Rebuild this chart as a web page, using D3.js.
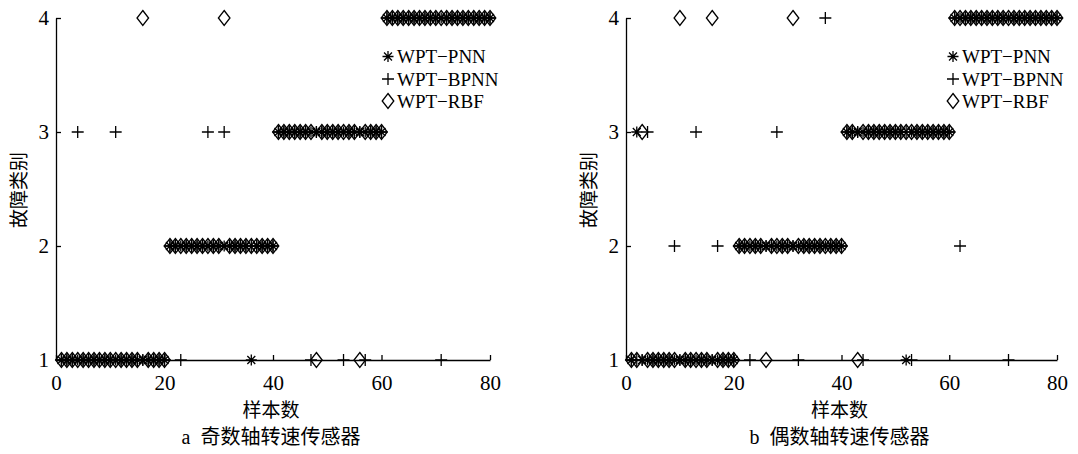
<!DOCTYPE html>
<html>
<head>
<meta charset="utf-8">
<script src="https://cdn.jsdelivr.net/npm/d3@7"></script>
<style>
  html, body { margin: 0; padding: 0; background: #fff; }
  svg { display: block; }
  text { fill: #000; }
</style>
</head>
<body>
<svg id="chart" width="1078" height="454"></svg>
<script>
// Sample index 1..80 and tick values
const samples = [
  1,2,3,4,5,6,7,8,9,10,11,12,13,14,15,16,17,18,19,20,
  21,22,23,24,25,26,27,28,29,30,31,32,33,34,35,36,37,38,39,40,
  41,42,43,44,45,46,47,48,49,50,51,52,53,54,55,56,57,58,59,60,
  61,62,63,64,65,66,67,68,69,70,71,72,73,74,75,76,77,78,79,80
];
const xTicks = [0, 20, 40, 60, 80];
const yTicks = [1, 2, 3, 4];
const seriesNames = ["WPT-PNN", "WPT-BPNN", "WPT-RBF"];

// (a) odd-shaft speed sensor: predicted fault class per sample
const aPNN = [
  1,1,1,1,1,1,1,1,1,1,1,1,1,1,1,1,1,1,1,1,
  2,2,2,2,2,2,2,2,2,2,2,2,2,2,2,1,2,2,2,2,
  3,3,3,3,3,3,3,3,3,3,3,3,3,3,3,3,3,3,3,3,
  4,4,4,4,4,4,4,4,4,4,4,4,4,4,4,4,4,4,4,4
];
const aBPNN = [
  1,1,1,3,1,1,1,1,1,1,3,1,1,1,1,1,1,1,1,1,
  2,2,1,2,2,2,2,3,2,2,3,2,2,2,2,2,2,2,2,2,
  3,3,3,3,3,3,1,3,3,3,3,3,1,3,3,3,1,3,3,3,
  4,4,4,4,4,4,4,4,4,4,1,4,4,4,4,4,4,4,4,4
];
const aRBF = [
  1,1,1,1,1,1,1,1,1,1,1,1,1,1,1,4,1,1,1,1,
  2,2,2,2,2,2,2,2,2,2,4,2,2,2,2,2,2,2,2,2,
  3,3,3,3,3,3,3,1,3,3,3,3,3,3,3,1,3,3,3,3,
  4,4,4,4,4,4,4,4,4,4,4,4,4,4,4,4,4,4,4,4
];

// (b) even-shaft speed sensor
const bPNN = [
  1,3,1,1,1,1,1,1,1,1,1,1,1,1,1,1,1,1,1,1,
  2,2,2,2,2,2,2,2,2,2,2,2,2,2,2,2,2,2,2,2,
  3,3,3,3,3,3,3,3,3,3,3,1,3,3,3,3,3,3,3,3,
  4,4,4,4,4,4,4,4,4,4,4,4,4,4,4,4,4,4,4,4
];
const bBPNN = [
  1,1,1,3,1,1,1,1,2,1,1,1,3,1,1,1,2,1,1,1,
  2,2,1,2,2,2,2,3,2,2,2,1,2,2,2,2,4,2,2,2,
  3,3,3,1,3,3,3,3,3,3,3,3,1,3,3,3,3,3,3,3,
  4,2,4,4,4,4,4,4,4,4,1,4,4,4,4,4,4,4,4,4
];
const bRBF = [
  1,1,3,1,1,1,1,1,1,4,1,1,1,1,1,4,1,1,1,1,
  2,2,2,2,2,1,2,2,2,2,4,2,2,2,2,2,2,2,2,2,
  3,3,1,3,3,3,3,3,3,3,3,3,3,3,3,3,3,3,3,3,
  4,4,4,4,4,4,4,4,4,4,4,4,4,4,4,4,4,4,4,4
];

const panels = [
  { left: 56, right: 490, tag: "a", caption: "奇数轴转速传感器", values: [aPNN, aBPNN, aRBF], legendX: 332 },
  { left: 626, right: 1057, tag: "b", caption: "偶数轴转速传感器", values: [bPNN, bBPNN, bRBF], legendX: 327 }
];

const TOP = 18, BOTTOM = 360;
const SERIF = "'Times New Roman', 'Liberation Serif', 'Noto Sans CJK SC', serif";
const CJK = "'Noto Sans CJK SC', 'Liberation Serif', serif";

// marker shapes: asterisk, plus, diamond (outline only)
const markerPath = [
  () => { const r = 5.5, d = r * 0.72;
    return `M0,${-r}V${r}M${-r},0H${r}M${-d},${-d}L${d},${d}M${-d},${d}L${d},${-d}`; },
  () => { const r = 6; return `M0,${-r}V${r}M${-r},0H${r}`; },
  () => { const w = 5.8, h = 7.5; return `M0,${-h}L${w},0L0,${h}L${-w},0Z`; }
];

const svg = d3.select("#chart");

panels.forEach(p => {
  const x = d3.scaleLinear().domain([0, 80]).range([p.left, p.right]);
  const y = d3.scaleLinear().domain([1, 4]).range([BOTTOM, TOP]);
  const g = svg.append("g");

  const xAxis = g.append("g")
    .attr("transform", `translate(0,${BOTTOM})`)
    .call(d3.axisBottom(x).tickValues(xTicks).tickSizeInner(-5).tickSizeOuter(0).tickPadding(15));
  const yAxis = g.append("g")
    .attr("transform", `translate(${p.left},0)`)
    .call(d3.axisLeft(y).tickValues(yTicks).tickSizeInner(-5).tickSizeOuter(0).tickPadding(7).tickFormat(d3.format("d")));

  [xAxis, yAxis].forEach(a => {
    a.selectAll("path.domain, line").attr("stroke", "#000").attr("stroke-width", 1.3);
    a.selectAll("text").attr("font-family", SERIF).attr("font-size", 21).attr("fill", "#000");
  });

  // data markers: PNN, then BPNN, then RBF on top
  p.values.forEach((vals, si) => {
    g.append("g").selectAll("path")
      .data(samples.map((s, i) => ({ s, v: vals[i] })))
      .join("path")
      .attr("d", markerPath[si]())
      .attr("transform", d => `translate(${x(d.s)},${y(d.v)})`)
      .attr("fill", "none")
      .attr("stroke", "#000")
      .attr("stroke-width", 1.3);
  });

  // legend
  const lg = g.append("g").attr("transform", `translate(${p.left + p.legendX},0)`);
  const rows = [56.5, 79, 101];
  seriesNames.forEach((name, i) => {
    lg.append("path")
      .attr("d", markerPath[i]())
      .attr("transform", `translate(0,${rows[i]})`)
      .attr("fill", "none").attr("stroke", "#000").attr("stroke-width", 1.3);
    lg.append("text")
      .attr("x", 9).attr("y", rows[i]).attr("dy", "0.35em")
      .attr("font-family", SERIF).attr("font-size", 19)
      .text(name.replace("-", "\u2212"));
  });

  const cx = (p.left + p.right) / 2 - 2;
  g.append("text")
    .attr("x", cx).attr("y", 417)
    .attr("text-anchor", "middle")
    .attr("font-family", CJK).attr("font-size", 19)
    .text("样本数");
  const cap = g.append("text")
    .attr("x", cx).attr("y", 444)
    .attr("text-anchor", "middle")
    .attr("font-family", SERIF).attr("font-size", 20);
  cap.append("tspan").text(p.tag + "\u2002");
  cap.append("tspan").attr("font-family", CJK).text(p.caption);
  g.append("text")
    .attr("transform", `translate(${p.left - 30},190) rotate(-90)`)
    .attr("text-anchor", "middle")
    .attr("font-family", CJK).attr("font-size", 19)
    .text("故障类别");
});
</script>
</body>
</html>
